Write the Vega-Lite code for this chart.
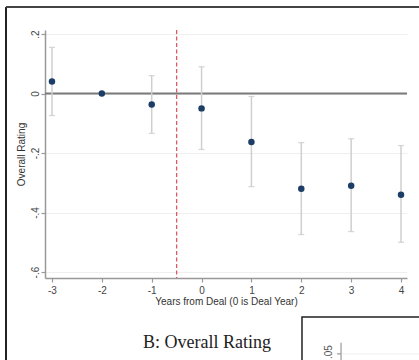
{
  "$schema": "https://vega.github.io/schema/vega-lite/v6.json",
  "width": 362,
  "height": 248,
  "autosize": {"type": "none"},
  "padding": {"left": 45, "top": 30, "right": 12, "bottom": 82},
  "background": "white",
  "config": {"view": {"stroke": null}, "font": "Liberation Sans"},
  "data": {
    "values": [
      {"year": -3, "est": 0.04, "lo": -0.074, "hi": 0.155},
      {"year": -2, "est": 0.0, "lo": null, "hi": null},
      {"year": -1, "est": -0.037, "lo": -0.134, "hi": 0.06},
      {"year": 0, "est": -0.05, "lo": -0.188, "hi": 0.09},
      {"year": 1, "est": -0.163, "lo": -0.313, "hi": -0.01},
      {"year": 2, "est": -0.32, "lo": -0.474, "hi": -0.165},
      {"year": 3, "est": -0.31, "lo": -0.464, "hi": -0.152},
      {"year": 4, "est": -0.34, "lo": -0.5, "hi": -0.175}
    ]
  },
  "layer": [
    {
      "mark": {"type": "circle", "size": 42, "color": "#1c3d66", "opacity": 0},
      "encoding": {
        "y": {"field": "est", "type": "quantitative", "scale": {"domain": [-0.62, 0.2134], "nice": false, "zero": false},
          "axis": {"title": "Overall Rating", "values": [0.2, 0, -0.2, -0.4, -0.6], "labelExpr": "replace('' + datum.value, '0.', '.')",
            "labelAngle": 270, "labelAlign": "center", "labelBaseline": "bottom", "labelPadding": 1, "tickSize": 4, "tickColor": "#999", "tickWidth": 1.2,
            "domainColor": "#999", "domainWidth": 1.5, "grid": true, "gridColor": "#efefef", "gridWidth": 1,
            "labelColor": "#444", "labelFontSize": 10, "titleFontSize": 10, "titleFontWeight": "normal", "titleColor": "#333", "titlePadding": 4}},
        "x": {"field": "year", "type": "quantitative", "scale": {"domain": [-3.14, 4.12], "nice": false, "zero": false},
          "axis": {"title": "Years from Deal (0 is Deal Year)", "values": [-3, -2, -1, 0, 1, 2, 3, 4], "labelExpr": "'' + datum.value",
            "labelAngle": 0, "tickSize": 4, "tickColor": "#999", "tickWidth": 1.2, "domainColor": "#999", "domainWidth": 1.5, "grid": false,
            "labelColor": "#444", "labelFontSize": 10, "labelPadding": 3, "titleFontSize": 10, "titleFontWeight": "normal", "titleColor": "#333", "titlePadding": 1}}
      }
    },
    {
      "data": {"values": [{}]},
      "mark": {"type": "rule", "color": "#7a7a7a", "strokeWidth": 2},
      "encoding": {
        "y": {"datum": 0, "type": "quantitative", "scale": {"domain": [-0.62, 0.2134], "nice": false, "zero": false}},
        "x": {"datum": -3.14, "type": "quantitative", "scale": {"domain": [-3.14, 4.12], "nice": false, "zero": false}},
        "x2": {"datum": 4.12}
      }
    },
    {
      "data": {"values": [{}]},
      "mark": {"type": "rule", "color": "#dc5a66", "strokeWidth": 1.3, "strokeDash": [4, 2.5]},
      "encoding": {
        "x": {"datum": -0.5, "type": "quantitative", "scale": {"domain": [-3.14, 4.12], "nice": false, "zero": false}},
        "y": {"datum": 0.2134, "type": "quantitative", "scale": {"domain": [-0.62, 0.2134], "nice": false, "zero": false}},
        "y2": {"datum": -0.62}
      }
    },
    {
      "mark": {"type": "rule", "color": "#cfcfcf", "strokeWidth": 1.5},
      "encoding": {
        "x": {"field": "year", "type": "quantitative", "scale": {"domain": [-3.14, 4.12], "nice": false, "zero": false}},
        "y": {"field": "lo", "type": "quantitative", "scale": {"domain": [-0.62, 0.2134], "nice": false, "zero": false}},
        "y2": {"field": "hi"}
      }
    },
    {
      "mark": {"type": "tick", "orient": "horizontal", "size": 6, "thickness": 1.3, "color": "#c8c8c8"},
      "encoding": {
        "x": {"field": "year", "type": "quantitative", "scale": {"domain": [-3.14, 4.12], "nice": false, "zero": false}},
        "y": {"field": "lo", "type": "quantitative", "scale": {"domain": [-0.62, 0.2134], "nice": false, "zero": false}}
      }
    },
    {
      "mark": {"type": "tick", "orient": "horizontal", "size": 6, "thickness": 1.3, "color": "#c8c8c8"},
      "encoding": {
        "x": {"field": "year", "type": "quantitative", "scale": {"domain": [-3.14, 4.12], "nice": false, "zero": false}},
        "y": {"field": "hi", "type": "quantitative", "scale": {"domain": [-0.62, 0.2134], "nice": false, "zero": false}}
      }
    },
    {
      "mark": {"type": "circle", "size": 42, "color": "#1c3d66", "opacity": 1},
      "encoding": {
        "x": {"field": "year", "type": "quantitative", "scale": {"domain": [-3.14, 4.12], "nice": false, "zero": false}},
        "y": {"field": "est", "type": "quantitative", "scale": {"domain": [-0.62, 0.2134], "nice": false, "zero": false}}
      }
    },
    {
      "data": {"values": [{}]},
      "mark": {"type": "rule", "color": "#222", "strokeWidth": 2},
      "encoding": {
        "x": {"datum": -3.922, "type": "quantitative", "scale": {"domain": [-3.14, 4.12], "nice": false, "zero": false}},
        "y": {"datum": 0.2907, "type": "quantitative", "scale": {"domain": [-0.62, 0.2134], "nice": false, "zero": false}},
        "y2": {"datum": -0.95}
      }
    },
    {
      "data": {"values": [{}]},
      "mark": {"type": "rule", "color": "#444", "strokeWidth": 2},
      "encoding": {
        "x": {"datum": -3.922, "type": "quantitative", "scale": {"domain": [-3.14, 4.12], "nice": false, "zero": false}},
        "x2": {"datum": 4.6},
        "y": {"datum": 0.2907, "type": "quantitative", "scale": {"domain": [-0.62, 0.2134], "nice": false, "zero": false}}
      }
    },
    {
      "data": {"values": [{}]},
      "mark": {"type": "text", "text": "B: Overall Rating", "font": "Liberation Serif", "fontSize": 18, "color": "#222", "align": "center", "baseline": "alphabetic"},
      "encoding": {
        "x": {"datum": 0.109, "type": "quantitative", "scale": {"domain": [-3.14, 4.12], "nice": false, "zero": false}},
        "y": {"datum": -0.855, "type": "quantitative", "scale": {"domain": [-0.62, 0.2134], "nice": false, "zero": false}}
      }
    },
    {
      "data": {"values": [{}]},
      "mark": {"type": "rect", "fill": "transparent", "stroke": "#222", "strokeWidth": 1.5},
      "encoding": {
        "x": {"datum": 2.014, "type": "quantitative", "scale": {"domain": [-3.14, 4.12], "nice": false, "zero": false}},
        "x2": {"datum": 4.7},
        "y": {"datum": -0.751, "type": "quantitative", "scale": {"domain": [-0.62, 0.2134], "nice": false, "zero": false}},
        "y2": {"datum": -1.0}
      }
    },
    {
      "data": {"values": [{}]},
      "mark": {"type": "rule", "color": "#eee", "strokeWidth": 1},
      "encoding": {
        "x": {"datum": 2.797, "type": "quantitative", "scale": {"domain": [-3.14, 4.12], "nice": false, "zero": false}},
        "x2": {"datum": 4.6},
        "y": {"datum": -0.875, "type": "quantitative", "scale": {"domain": [-0.62, 0.2134], "nice": false, "zero": false}}
      }
    },
    {
      "data": {"values": [{}]},
      "mark": {"type": "rule", "color": "#999", "strokeWidth": 1.2},
      "encoding": {
        "x": {"datum": 2.797, "type": "quantitative", "scale": {"domain": [-3.14, 4.12], "nice": false, "zero": false}},
        "y": {"datum": -0.838, "type": "quantitative", "scale": {"domain": [-0.62, 0.2134], "nice": false, "zero": false}},
        "y2": {"datum": -1.0}
      }
    },
    {
      "data": {"values": [{}]},
      "mark": {"type": "rule", "color": "#999", "strokeWidth": 1.2},
      "encoding": {
        "x": {"datum": 2.717, "type": "quantitative", "scale": {"domain": [-3.14, 4.12], "nice": false, "zero": false}},
        "x2": {"datum": 2.797},
        "y": {"datum": -0.875, "type": "quantitative", "scale": {"domain": [-0.62, 0.2134], "nice": false, "zero": false}}
      }
    },
    {
      "data": {"values": [{}]},
      "mark": {"type": "text", "text": ".05", "angle": 270, "fontSize": 10, "color": "#555", "align": "center", "baseline": "middle"},
      "encoding": {
        "x": {"datum": 2.56, "type": "quantitative", "scale": {"domain": [-3.14, 4.12], "nice": false, "zero": false}},
        "y": {"datum": -0.869, "type": "quantitative", "scale": {"domain": [-0.62, 0.2134], "nice": false, "zero": false}}
      }
    }
  ]
}
